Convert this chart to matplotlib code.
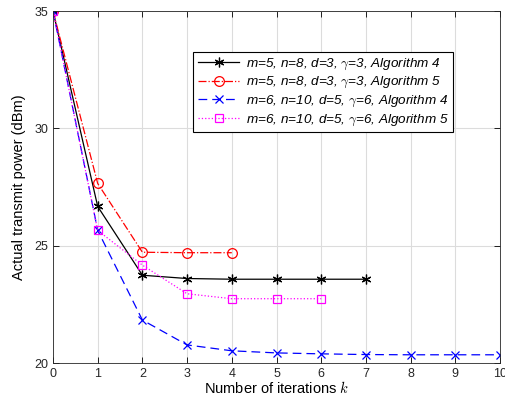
import matplotlib
matplotlib.use('Agg')
import matplotlib.pyplot as plt

plt.rcParams['font.family'] = ['Liberation Sans', 'DejaVu Sans']
plt.rcParams['mathtext.fontset'] = 'cm'

# iterations k
k_a = [0, 1, 2, 3, 4, 5, 6, 7]
k_b = [0, 1, 2, 3, 4]
k_c = [0, 1, 2, 3, 4, 5, 6, 7, 8, 9, 10]
k_d = [0, 1, 2, 3, 4, 5, 6]

p_a = [35, 26.67, 23.74, 23.60, 23.57, 23.57, 23.57, 23.57]
p_b = [35, 27.65, 24.72, 24.70, 24.70]
p_c = [35, 25.65, 21.83, 20.77, 20.52, 20.43, 20.39, 20.36, 20.35, 20.35, 20.35]
p_d = [35, 25.65, 24.17, 22.95, 22.74, 22.74, 22.74]

labels = [
    r'm=5, n=8, d=3, $\gamma$=3, Algorithm 4',
    r'm=5, n=8, d=3, $\gamma$=3, Algorithm 5',
    r'm=6, n=10, d=5, $\gamma$=6, Algorithm 4',
    r'm=6, n=10, d=5, $\gamma$=6, Algorithm 5',
]

fig = plt.figure(figsize=(5.06, 4.07), dpi=100)
ax = fig.add_axes([53 / 506, 1 - 363 / 407, 447 / 506, 352 / 407])

ax.plot(k_a, p_a, color='black', linestyle='-', linewidth=0.9, marker=(6, 2, 0),
        markersize=7, markeredgewidth=0.9, label=labels[0])
ax.plot(k_b, p_b, color='red', linestyle='-.', linewidth=0.9, marker='o',
        markersize=7, markerfacecolor='none', markeredgewidth=0.9, label=labels[1])
ax.plot(k_c, p_c, color='blue', linestyle=(0, (7, 4)), linewidth=0.9, marker='x',
        markersize=6, markeredgewidth=0.9, label=labels[2])
ax.plot(k_d, p_d, color='magenta', linestyle=':', linewidth=0.9, marker='s',
        markersize=6, markerfacecolor='none', markeredgewidth=0.9, label=labels[3])

ax.set_xlim(0, 10)
ax.set_ylim(20, 35)
ax.set_xticks(range(0, 11))
ax.set_yticks([20, 25, 30, 35])
ax.grid(True, color='#dcdcdc', linewidth=0.8)
ax.set_axisbelow(True)
ax.tick_params(direction='in', top=True, right=True, labelsize=9, length=4, width=0.6,
               labelcolor='#262626')
for s in ax.spines.values():
    s.set_linewidth(0.6)
    s.set_color('#262626')

ax.set_xlabel('Number of iterations $k$', fontsize=10.5, labelpad=0)
ax.set_ylabel('Actual transmit power (dBm)', fontsize=10.5, labelpad=6)

leg = ax.legend(loc='upper left', bbox_to_anchor=(0.313, 0.8835), borderaxespad=0,
                prop={'style': 'italic', 'size': 9.7}, fancybox=False, framealpha=1,
                edgecolor='black', handlelength=3.1, borderpad=0.35, labelspacing=0.25,
                handletextpad=0.5)
leg.get_frame().set_linewidth(0.8)

fig.savefig('out.png', dpi=100)
